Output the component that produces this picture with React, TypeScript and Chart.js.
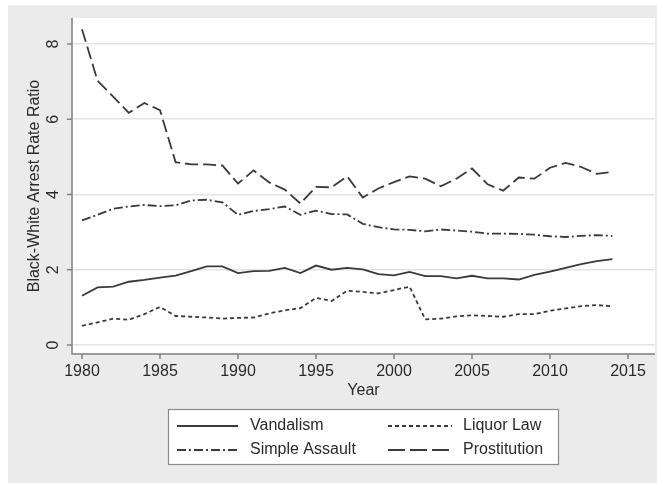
import React, { useEffect, useRef } from "react";
import { Chart, registerables } from "chart.js";

Chart.register(...registerables);

const years = [
  1980, 1981, 1982, 1983, 1984, 1985, 1986, 1987, 1988, 1989,
  1990, 1991, 1992, 1993, 1994, 1995, 1996, 1997, 1998, 1999,
  2000, 2001, 2002, 2003, 2004, 2005, 2006, 2007, 2008, 2009,
  2010, 2011, 2012, 2013, 2014,
];

const vandalism = [
  1.31, 1.53, 1.55, 1.68, 1.73, 1.79, 1.84, 1.96, 2.09, 2.09,
  1.91, 1.96, 1.97, 2.05, 1.91, 2.11, 2.0, 2.05, 2.01, 1.88,
  1.85, 1.94, 1.83, 1.83, 1.77, 1.84, 1.77, 1.77, 1.74, 1.86,
  1.95, 2.05, 2.15, 2.23, 2.28,
];

const liquorLaw = [
  0.51, 0.6, 0.7, 0.67, 0.82, 1.01, 0.77, 0.75, 0.73, 0.7,
  0.72, 0.73, 0.84, 0.92, 0.98, 1.25, 1.17, 1.44, 1.41, 1.37,
  1.46, 1.55, 0.68, 0.7, 0.76, 0.79, 0.77, 0.75, 0.82, 0.82,
  0.91, 0.97, 1.03, 1.06, 1.03,
];

const simpleAssault = [
  3.31, 3.46, 3.62, 3.68, 3.72, 3.69, 3.71, 3.84, 3.86, 3.79,
  3.46, 3.56, 3.61, 3.68, 3.46, 3.57, 3.48, 3.47, 3.22, 3.13,
  3.07, 3.06, 3.02, 3.07, 3.04, 3.01, 2.96, 2.96, 2.95, 2.93,
  2.89, 2.87, 2.9, 2.92, 2.9,
];

const prostitution = [
  8.39, 7.02, 6.6, 6.17, 6.43, 6.24, 4.86, 4.8, 4.8, 4.77,
  4.29, 4.64, 4.32, 4.13, 3.76, 4.2, 4.19, 4.48, 3.92, 4.16,
  4.33, 4.48, 4.42, 4.22, 4.42, 4.69, 4.27, 4.1, 4.45, 4.42,
  4.71, 4.84, 4.73, 4.55, 4.6,
];

const xTicks = [1980, 1985, 1990, 1995, 2000, 2005, 2010, 2015];
const yTicks = [0, 2, 4, 6, 8];

const seriesLabels = ["Vandalism", "Liquor Law", "Simple Assault", "Prostitution"];

const W = 657;
const H = 483;
const FONT = '16px "Liberation Sans", Arial, Helvetica, sans-serif';
const LINE = "#3a3a3a";
const TEXT = "#2a2a2a";
const AXIS = "#808080";

const furniture = {
  id: "furniture",
  beforeDraw(chart: any) {
    const ctx = chart.ctx;
    const { left, top, right, bottom } = chart.chartArea;
    ctx.save();
    ctx.fillStyle = "#ffffff";
    ctx.fillRect(0, 0, W, H);
    ctx.fillStyle = "#ebebeb";
    ctx.fillRect(8, 5, W - 8, H - 5);
    ctx.fillStyle = "#ffffff";
    ctx.fillRect(left, top, right - left, bottom - top);
    ctx.restore();
  },
  afterDraw(chart: any) {
    const ctx = chart.ctx;
    const { left, top, right, bottom } = chart.chartArea;
    const xs = chart.scales.x;
    const ys = chart.scales.y;
    ctx.save();
    // axis lines
    ctx.strokeStyle = AXIS;
    ctx.lineWidth = 1.5;
    ctx.setLineDash([]);
    ctx.beginPath();
    ctx.moveTo(left, top);
    ctx.lineTo(left, bottom);
    ctx.lineTo(right, bottom);
    ctx.stroke();

    ctx.font = FONT;
    ctx.fillStyle = TEXT;
    // y ticks
    yTicks.forEach((v) => {
      const py = ys.getPixelForValue(v);
      ctx.beginPath();
      ctx.moveTo(left - 5, py);
      ctx.lineTo(left, py);
      ctx.stroke();
      ctx.save();
      ctx.translate(54, py);
      ctx.rotate(-Math.PI / 2);
      ctx.textAlign = "center";
      ctx.textBaseline = "middle";
      ctx.fillText(String(v), 0, 0);
      ctx.restore();
    });
    // x ticks
    xTicks.forEach((v) => {
      const px = xs.getPixelForValue(v);
      ctx.beginPath();
      ctx.moveTo(px, bottom);
      ctx.lineTo(px, bottom + 5);
      ctx.stroke();
      ctx.textAlign = "center";
      ctx.textBaseline = "middle";
      ctx.fillText(String(v), px, bottom + 18);
    });
    // titles
    ctx.textAlign = "center";
    ctx.textBaseline = "middle";
    ctx.fillText("Year", (left + right) / 2, 391);
    ctx.save();
    ctx.translate(35, (top + bottom) / 2);
    ctx.rotate(-Math.PI / 2);
    ctx.fillText("Black-White Arrest Rate Ratio", 0, 0);
    ctx.restore();

    // legend
    ctx.fillStyle = "#ffffff";
    ctx.fillRect(168, 409, 391, 56);
    ctx.strokeStyle = "#8a8a8a";
    ctx.lineWidth = 1.2;
    ctx.strokeRect(168.5, 409.5, 390, 55);
    const slots = [
      { x0: 177, x1: 238, tx: 250, y: 426 },
      { x0: 388, x1: 452, tx: 463, y: 426 },
      { x0: 177, x1: 238, tx: 250, y: 450 },
      { x0: 388, x1: 452, tx: 463, y: 450 },
    ];
    chart.data.datasets.forEach((ds: any, i: number) => {
      const s = slots[i];
      ctx.strokeStyle = ds.borderColor;
      ctx.lineWidth = ds.borderWidth;
      ctx.setLineDash(ds.legendDash || ds.borderDash || []);
      ctx.beginPath();
      ctx.moveTo(s.x0, s.y);
      ctx.lineTo(s.x1, s.y);
      ctx.stroke();
      ctx.setLineDash([]);
      ctx.fillStyle = TEXT;
      ctx.textAlign = "left";
      ctx.textBaseline = "middle";
      ctx.fillText(ds.label, s.tx, s.y);
    });
    ctx.restore();
  },
};

export default function App() {
  const ref = useRef<HTMLCanvasElement | null>(null);
  useEffect(() => {
    if (!ref.current) return;
    const mk = (vals: number[]) => years.map((x, i) => ({ x, y: vals[i] }));
    const common = {
      borderColor: LINE,
      borderWidth: 1.8,
      pointRadius: 0,
      fill: false,
      tension: 0,
    };
    const chart = new Chart(ref.current, {
      type: "line",
      data: {
        datasets: [
          { ...common, label: seriesLabels[0], data: mk(vandalism), borderDash: [] },
          { ...common, label: seriesLabels[1], data: mk(liquorLaw), borderDash: [4, 3] },
          { ...common, label: seriesLabels[2], data: mk(simpleAssault), borderDash: [9, 3, 2, 3] },
          { ...common, label: seriesLabels[3], data: mk(prostitution), borderDash: [13, 5], legendDash: [17, 5] },
        ] as any,
      },
      options: {
        responsive: false,
        animation: false,
        layout: { padding: { left: 0, top: 18, right: 2, bottom: 0 } },
        plugins: { legend: { display: false }, tooltip: { enabled: false } },
        scales: {
          x: {
            type: "linear",
            min: 1979.36,
            max: 2016.73,
            grid: { display: false },
            border: { display: false },
            ticks: { display: false },
            afterFit: (s: any) => {
              s.height = H - 354;
            },
          },
          y: {
            type: "linear",
            min: -0.24,
            max: 8.69,
            grid: { color: "#e4e4e4", lineWidth: 1.5, drawTicks: false },
            border: { display: false },
            ticks: { display: false },
            afterBuildTicks: (s: any) => {
              s.ticks = yTicks.map((v) => ({ value: v }));
            },
            afterFit: (s: any) => {
              s.width = 72;
            },
          },
        },
      },
      plugins: [furniture],
    } as any);
    return () => chart.destroy();
  }, []);
  return (
    <div style={{ position: "fixed", left: 0, top: 0, width: W, height: H }}>
      <canvas ref={ref} width={W} height={H} />
    </div>
  );
}
